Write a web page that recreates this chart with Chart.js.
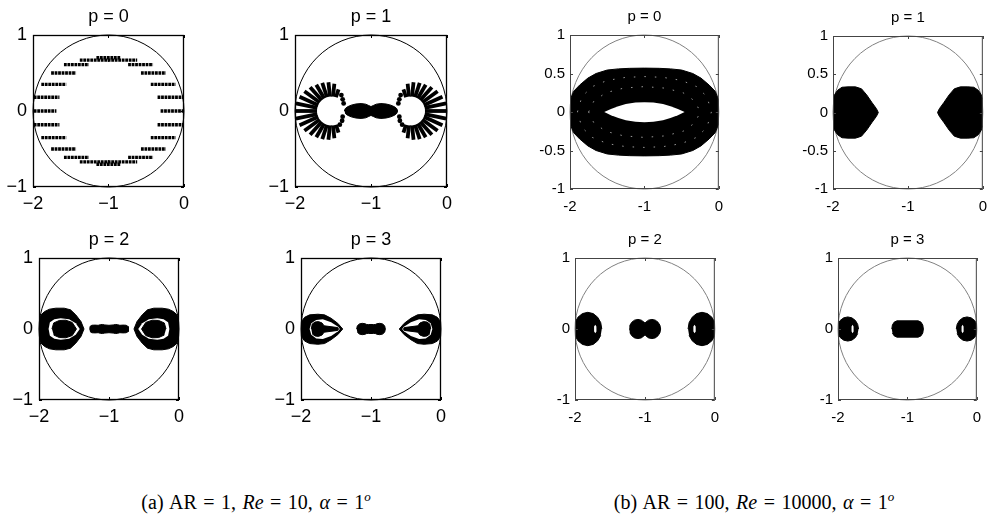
<!DOCTYPE html>
<html>
<head>
<meta charset="utf-8">
<script src="https://cdn.jsdelivr.net/npm/chart.js@4.4.1/dist/chart.umd.min.js"></script>
<style>
  html, body { margin: 0; padding: 0; background: #fff; }
  #fig { position: relative; width: 992px; height: 523px; overflow: hidden; }
  #fig canvas { position: absolute; }
  .cap { position: absolute; top: 486px; line-height: 22px; transform: translateX(-50%); white-space: nowrap;
         font-family: "Liberation Serif", "DejaVu Serif", serif; font-size: 20px; word-spacing: 1.5px; color: #000; }
  .cap sup { font-size: 13px; }
</style>
</head>
<body>
<div id="fig">
  <canvas id="a0"></canvas>
  <canvas id="a1"></canvas>
  <canvas id="a2"></canvas>
  <canvas id="a3"></canvas>
  <canvas id="b0"></canvas>
  <canvas id="b1"></canvas>
  <canvas id="b2"></canvas>
  <canvas id="b3"></canvas>
  <div class="cap" style="left:256px">(a) AR = 1, <i>Re</i> = 10, <i>α</i> = 1<sup><i>o</i></sup></div>
  <div class="cap" style="left:754px">(b) AR = 100, <i>Re</i> = 10000, <i>α</i> = 1<sup><i>o</i></sup></div>
</div>
<script>
// axes, ticks and the reference circle (centre -1, radius 1)
const xTicks = [-2, -1, 0];
const xLabelsA = ['\u22122', '\u22121', '0'];
const xLabelsB = ['-2', '-1', '0'];
const yTicksA = [-1, 0, 1];
const yLabelsA = ['\u22121', '0', '1'];
const yTicksB = [-1, -0.5, 0, 0.5, 1];
const yLabelsB = ['-1', '-0.5', '0', '0.5', '1'];
const yTicksB2 = [-1, 0, 1];
const yLabelsB2 = ['-1', '0', '1'];
const circleCenter = [-1, 0];
const circleRadius = 1;

// (a) p = 0 : rows of eigenvalues, [y, xStart, xEnd]
const a0Rows = [
  [0.70, -1.16, -0.84],
  [0.67, -1.38, -0.99], [0.67, -1.01, -0.62],
  [0.61, -1.59, -1.26], [0.61, -0.74, -0.41],
  [0.50, -1.76, -1.43], [0.50, -0.57, -0.24],
  [0.35, -1.89, -1.56], [0.35, -0.44, -0.11],
  [0.18, -1.99, -1.65], [0.18, -0.35, -0.01],
  [0.00, -1.99, -1.69], [0.00, -0.31, 0.02],
  [-0.18, -1.99, -1.65], [-0.18, -0.35, -0.01],
  [-0.35, -1.89, -1.56], [-0.35, -0.44, -0.11],
  [-0.50, -1.76, -1.43], [-0.50, -0.57, -0.24],
  [-0.61, -1.59, -1.26], [-0.61, -0.74, -0.41],
  [-0.67, -1.38, -0.99], [-0.67, -1.01, -0.62],
  [-0.70, -1.16, -0.84]
];

// (a) p = 1 : spokes around the two rings, [x1, y1, x2, y2]
const a1Spokes = [
  [-1.461, 0.181, -1.427, 0.285], [-1.500, 0.189, -1.482, 0.358], [-1.540, 0.189, -1.560, 0.378],
  [-1.579, 0.181, -1.641, 0.371], [-1.615, 0.165, -1.720, 0.346], [-1.647, 0.141, -1.801, 0.312],
  [-1.674, 0.112, -1.876, 0.259], [-1.694, 0.077, -1.940, 0.187], [-1.706, 0.040, -1.989, 0.100],
  [-1.710, 0.000, -2.000, 0.000],
  [-1.706, -0.040, -1.989, -0.100], [-1.694, -0.077, -1.940, -0.187], [-1.674, -0.112, -1.876, -0.259],
  [-1.647, -0.141, -1.801, -0.312], [-1.615, -0.165, -1.720, -0.346], [-1.579, -0.181, -1.641, -0.371],
  [-1.540, -0.189, -1.560, -0.378], [-1.500, -0.189, -1.482, -0.358], [-1.461, -0.181, -1.427, -0.285],
  [-0.539, 0.181, -0.573, 0.285], [-0.500, 0.189, -0.518, 0.358], [-0.460, 0.189, -0.440, 0.378],
  [-0.421, 0.181, -0.359, 0.371], [-0.385, 0.165, -0.280, 0.346], [-0.353, 0.141, -0.199, 0.312],
  [-0.326, 0.112, -0.124, 0.259], [-0.306, 0.077, -0.060, 0.187], [-0.294, 0.040, -0.011, 0.100],
  [-0.290, 0.000, 0.000, 0.000],
  [-0.294, -0.040, -0.011, -0.100], [-0.306, -0.077, -0.060, -0.187], [-0.326, -0.112, -0.124, -0.259],
  [-0.353, -0.141, -0.199, -0.312], [-0.385, -0.165, -0.280, -0.346], [-0.421, -0.181, -0.359, -0.371],
  [-0.460, -0.189, -0.440, -0.378], [-0.500, -0.189, -0.518, -0.358], [-0.539, -0.181, -0.573, -0.285]
];
const a1Dots = [
  [-1.39, 0.21], [-1.373, 0.154], [-1.36, 0.10], [-1.373, -0.075], [-1.38, -0.128], [-1.41, -0.18],
  [-0.61, 0.21], [-0.627, 0.154], [-0.64, 0.10], [-0.627, -0.075], [-0.62, -0.128], [-0.59, -0.18]
];
const a1Middle = [
  [-1.35, 0], [-1.34, 0.03], [-1.31, 0.055], [-1.26, 0.077], [-1.2, 0.092], [-1.13, 0.098], [-1.07, 0.09],
  [-1.03, 0.072], [-1.0, 0.058], [-0.97, 0.072], [-0.93, 0.09], [-0.87, 0.098], [-0.8, 0.092], [-0.74, 0.077],
  [-0.69, 0.055], [-0.66, 0.03], [-0.65, 0], [-0.66, -0.03], [-0.69, -0.055], [-0.74, -0.077], [-0.8, -0.092],
  [-0.87, -0.098], [-0.93, -0.09], [-0.97, -0.072], [-1.0, -0.058], [-1.03, -0.072], [-1.07, -0.09],
  [-1.13, -0.098], [-1.2, -0.092], [-1.26, -0.077], [-1.31, -0.055], [-1.34, -0.03]
];

// (a) p = 2
const a2OuterL = [
  [-2.0, 0], [-2.0, 0.128], [-1.97, 0.2], [-1.92, 0.246], [-1.85, 0.279], [-1.76, 0.293], [-1.64, 0.293],
  [-1.55, 0.27], [-1.475, 0.2], [-1.40, 0.104], [-1.357, 0], [-1.40, -0.104], [-1.475, -0.2], [-1.55, -0.27],
  [-1.64, -0.293], [-1.76, -0.293], [-1.85, -0.279], [-1.92, -0.246], [-1.97, -0.2], [-2.0, -0.128]
];
const a2GapL = [
  [-1.863, 0], [-1.844, 0.095], [-1.78, 0.137], [-1.69, 0.151], [-1.57, 0.137], [-1.475, 0.08], [-1.418, 0],
  [-1.475, -0.08], [-1.57, -0.137], [-1.69, -0.151], [-1.78, -0.137], [-1.844, -0.095]
];
const a2CoreL = [
  [-1.815, 0], [-1.79, 0.085], [-1.71, 0.12], [-1.617, 0.124], [-1.525, 0.092], [-1.465, 0],
  [-1.525, -0.092], [-1.617, -0.124], [-1.71, -0.12], [-1.79, -0.085]
];
const a2OuterR = [
  [0, 0], [0, 0.128], [-0.03, 0.2], [-0.08, 0.246], [-0.15, 0.279], [-0.24, 0.293], [-0.36, 0.293],
  [-0.45, 0.27], [-0.525, 0.2], [-0.60, 0.104], [-0.643, 0], [-0.60, -0.104], [-0.525, -0.2], [-0.45, -0.27],
  [-0.36, -0.293], [-0.24, -0.293], [-0.15, -0.279], [-0.08, -0.246], [-0.03, -0.2], [0, -0.128]
];
const a2GapR = [
  [-0.137, 0], [-0.156, 0.095], [-0.22, 0.137], [-0.31, 0.151], [-0.43, 0.137], [-0.525, 0.08], [-0.582, 0],
  [-0.525, -0.08], [-0.43, -0.137], [-0.31, -0.151], [-0.22, -0.137], [-0.156, -0.095]
];
const a2CoreR = [
  [-0.185, 0], [-0.21, 0.085], [-0.29, 0.12], [-0.383, 0.124], [-0.475, 0.092], [-0.535, 0],
  [-0.475, -0.092], [-0.383, -0.124], [-0.29, -0.12], [-0.21, -0.085]
];
const a2Middle = [
  [-1.28, 0], [-1.272, 0.035], [-1.245, 0.053], [-1.2, 0.055], [-1.155, 0.052], [-1.125, 0.06], [-1.095, 0.064],
  [-1.06, 0.057], [-1.0, 0.052], [-0.94, 0.057], [-0.905, 0.064], [-0.875, 0.06], [-0.845, 0.052], [-0.8, 0.055],
  [-0.755, 0.053], [-0.728, 0.035], [-0.72, 0], [-0.728, -0.035], [-0.755, -0.053], [-0.8, -0.055],
  [-0.845, -0.052], [-0.875, -0.06], [-0.905, -0.064], [-0.94, -0.057], [-1.0, -0.052], [-1.06, -0.057],
  [-1.095, -0.064], [-1.125, -0.06], [-1.155, -0.052], [-1.2, -0.055], [-1.245, -0.053], [-1.272, -0.035]
];

// (a) p = 3
const a3OuterL = [
  [-2.0, 0], [-1.995, 0.104], [-1.948, 0.165], [-1.877, 0.199], [-1.759, 0.208], [-1.664, 0.199], [-1.57, 0.151],
  [-1.475, 0.08], [-1.404, 0], [-1.475, -0.08], [-1.57, -0.151], [-1.664, -0.205], [-1.759, -0.215],
  [-1.877, -0.205], [-1.948, -0.17], [-1.995, -0.104]
];
const a3GapL = [
  [-1.877, 0], [-1.853, 0.08], [-1.783, 0.128], [-1.688, 0.137], [-1.57, 0.095], [-1.47, 0.03], [-1.445, 0],
  [-1.47, -0.03], [-1.57, -0.1], [-1.688, -0.142], [-1.783, -0.133], [-1.853, -0.08]
];
const a3CoreL = [
  [-1.853, 0], [-1.839, 0.071], [-1.797, 0.099], [-1.75, 0.104], [-1.70, 0.085], [-1.67, 0.045], [-1.475, 0.02],
  [-1.465, 0], [-1.475, -0.02], [-1.67, -0.045], [-1.70, -0.085], [-1.75, -0.104], [-1.797, -0.099], [-1.839, -0.071]
];
const a3OuterR = [
  [0, 0], [-0.005, 0.104], [-0.052, 0.165], [-0.123, 0.199], [-0.241, 0.208], [-0.336, 0.199], [-0.43, 0.151],
  [-0.525, 0.08], [-0.596, 0], [-0.525, -0.08], [-0.43, -0.151], [-0.336, -0.205], [-0.241, -0.215],
  [-0.123, -0.205], [-0.052, -0.17], [-0.005, -0.104]
];
const a3GapR = [
  [-0.123, 0], [-0.147, 0.08], [-0.217, 0.128], [-0.312, 0.137], [-0.43, 0.095], [-0.53, 0.03], [-0.555, 0],
  [-0.53, -0.03], [-0.43, -0.1], [-0.312, -0.142], [-0.217, -0.133], [-0.147, -0.08]
];
const a3CoreR = [
  [-0.147, 0], [-0.161, 0.071], [-0.203, 0.099], [-0.25, 0.104], [-0.30, 0.085], [-0.33, 0.045], [-0.525, 0.02],
  [-0.535, 0], [-0.525, -0.02], [-0.33, -0.045], [-0.30, -0.085], [-0.25, -0.104], [-0.203, -0.099], [-0.161, -0.071]
];
const a3Middle = [
  [-1.205, 0], [-1.195, 0.045], [-1.165, 0.072], [-1.125, 0.08], [-1.085, 0.074], [-1.06, 0.063], [-1.035, 0.062],
  [-1.0, 0.064], [-0.965, 0.062], [-0.94, 0.063], [-0.915, 0.074], [-0.875, 0.08], [-0.835, 0.072], [-0.805, 0.045],
  [-0.795, 0], [-0.805, -0.045], [-0.835, -0.072], [-0.875, -0.08], [-0.915, -0.074], [-0.94, -0.063],
  [-0.965, -0.062], [-1.0, -0.064], [-1.035, -0.062], [-1.06, -0.063], [-1.085, -0.074], [-1.125, -0.08],
  [-1.165, -0.072], [-1.195, -0.045]
];

// (b) p = 0 : annulus of eigenvalues
const b0Outer = [
  [-2.0, 0.15], [-1.95, 0.27], [-1.87, 0.35], [-1.76, 0.44], [-1.65, 0.50], [-1.5, 0.545], [-1.35, 0.56],
  [-1.2, 0.567], [-1.0, 0.57], [-0.8, 0.567], [-0.65, 0.56], [-0.5, 0.545], [-0.35, 0.50], [-0.24, 0.44],
  [-0.13, 0.35], [-0.05, 0.27], [0.0, 0.15], [0.0, -0.15], [-0.05, -0.27], [-0.13, -0.35], [-0.24, -0.44],
  [-0.35, -0.50], [-0.5, -0.545], [-0.65, -0.56], [-0.8, -0.567], [-1.0, -0.57], [-1.2, -0.567], [-1.35, -0.56],
  [-1.5, -0.545], [-1.65, -0.50], [-1.76, -0.44], [-1.87, -0.35], [-1.95, -0.27], [-2.0, -0.15]
];
const b0Hole = [
  [-1.54, 0], [-1.45, 0.04], [-1.35, 0.075], [-1.25, 0.103], [-1.12, 0.122], [-1.0, 0.128], [-0.88, 0.122],
  [-0.75, 0.103], [-0.65, 0.075], [-0.55, 0.04], [-0.46, 0], [-0.55, -0.042], [-0.65, -0.078], [-0.75, -0.107],
  [-0.88, -0.126], [-1.0, -0.132], [-1.12, -0.126], [-1.25, -0.107], [-1.35, -0.078], [-1.45, -0.042]
];
const b0Speckle1 = [
  [-1.9, 0], [-1.84, 0.2], [-1.7, 0.33], [-1.5, 0.41], [-1.25, 0.45], [-1.0, 0.46], [-0.75, 0.45], [-0.5, 0.41],
  [-0.3, 0.33], [-0.16, 0.2], [-0.1, 0], [-0.16, -0.2], [-0.3, -0.33], [-0.5, -0.41], [-0.75, -0.45],
  [-1.0, -0.46], [-1.25, -0.45], [-1.5, -0.41], [-1.7, -0.33], [-1.84, -0.2], [-1.9, 0]
];
const b0Speckle2 = [
  [-1.75, 0], [-1.68, 0.14], [-1.52, 0.25], [-1.28, 0.31], [-1.0, 0.33], [-0.72, 0.31], [-0.48, 0.25],
  [-0.32, 0.14], [-0.25, 0], [-0.32, -0.14], [-0.48, -0.25], [-0.72, -0.31], [-1.0, -0.33], [-1.28, -0.31],
  [-1.52, -0.25], [-1.68, -0.14], [-1.75, 0]
];

// (b) p = 1
const b1Left = [
  [-2.0, 0.17], [-1.98, 0.23], [-1.94, 0.29], [-1.88, 0.33], [-1.80, 0.335], [-1.70, 0.335], [-1.62, 0.31],
  [-1.55, 0.23], [-1.48, 0.13], [-1.42, 0.05], [-1.395, 0], [-1.42, -0.05], [-1.48, -0.13], [-1.55, -0.23],
  [-1.62, -0.31], [-1.70, -0.335], [-1.80, -0.335], [-1.88, -0.33], [-1.94, -0.29], [-1.98, -0.23], [-2.0, -0.17]
];
const b1Right = [
  [0, 0.17], [-0.02, 0.23], [-0.06, 0.29], [-0.12, 0.33], [-0.20, 0.335], [-0.30, 0.335], [-0.38, 0.31],
  [-0.45, 0.23], [-0.52, 0.13], [-0.58, 0.05], [-0.605, 0], [-0.58, -0.05], [-0.52, -0.13], [-0.45, -0.23],
  [-0.38, -0.31], [-0.30, -0.335], [-0.20, -0.335], [-0.12, -0.33], [-0.06, -0.29], [-0.02, -0.23], [0, -0.17]
];

// (b) p = 2
const b2Left = [
  [-1.617, 0], [-1.632, 0.09], [-1.676, 0.166], [-1.74, 0.217], [-1.817, 0.235], [-1.894, 0.217], [-1.958, 0.166],
  [-2.0, 0.09], [-2.0, -0.09], [-1.958, -0.166], [-1.894, -0.217], [-1.817, -0.235], [-1.74, -0.217],
  [-1.676, -0.166], [-1.632, -0.09]
];
const b2SlitL = [
  [-1.71, 0.06], [-1.694, 0.035], [-1.692, 0], [-1.694, -0.035], [-1.71, -0.06], [-1.726, -0.035], [-1.728, 0], [-1.726, 0.035]
];
const b2Right = [
  [-0.383, 0], [-0.368, 0.09], [-0.324, 0.166], [-0.26, 0.217], [-0.183, 0.235], [-0.106, 0.217], [-0.042, 0.166],
  [0, 0.09], [0, -0.09], [-0.042, -0.166], [-0.106, -0.217], [-0.183, -0.235], [-0.26, -0.217], [-0.324, -0.166],
  [-0.368, -0.09]
];
const b2SlitR = [
  [-0.29, 0.06], [-0.274, 0.035], [-0.272, 0], [-0.274, -0.035], [-0.29, -0.06], [-0.306, -0.035], [-0.308, 0], [-0.306, 0.035]
];
const b2Middle = [
  [-1.225, 0], [-1.215, 0.052], [-1.188, 0.095], [-1.148, 0.125], [-1.1, 0.135], [-1.052, 0.125], [-1.012, 0.095],
  [-1.0, 0.081], [-0.988, 0.095], [-0.948, 0.125], [-0.9, 0.135], [-0.852, 0.125], [-0.812, 0.095], [-0.785, 0.052],
  [-0.775, 0], [-0.785, -0.052], [-0.812, -0.095], [-0.852, -0.125], [-0.9, -0.135], [-0.948, -0.125],
  [-0.988, -0.095], [-1.0, -0.081], [-1.012, -0.095], [-1.052, -0.125], [-1.1, -0.135], [-1.148, -0.125],
  [-1.188, -0.095], [-1.215, -0.052]
];

// (b) p = 3
const b3Left = [
  [-1.704, 0], [-1.716, 0.065], [-1.749, 0.12], [-1.8, 0.157], [-1.859, 0.17], [-1.918, 0.157], [-1.969, 0.12],
  [-2.0, 0.065], [-2.0, -0.065], [-1.969, -0.12], [-1.918, -0.157], [-1.859, -0.17], [-1.8, -0.157],
  [-1.749, -0.12], [-1.716, -0.065]
];
const b3SlitL = [
  [-1.79, 0.06], [-1.776, 0.035], [-1.774, 0], [-1.776, -0.035], [-1.79, -0.06], [-1.804, -0.035], [-1.806, 0], [-1.804, 0.035]
];
const b3Right = [
  [-0.296, 0], [-0.284, 0.065], [-0.251, 0.12], [-0.2, 0.157], [-0.141, 0.17], [-0.082, 0.157], [-0.031, 0.12],
  [0, 0.065], [0, -0.065], [-0.031, -0.12], [-0.082, -0.157], [-0.141, -0.17], [-0.2, -0.157], [-0.251, -0.12],
  [-0.284, -0.065]
];
const b3SlitR = [
  [-0.205, 0.06], [-0.191, 0.035], [-0.189, 0], [-0.191, -0.035], [-0.205, -0.06], [-0.219, -0.035], [-0.221, 0], [-0.219, 0.035]
];
const b3Middle = [
  [-1.225, 0], [-1.216, 0.057], [-1.19, 0.097], [-1.15, 0.115], [-0.845, 0.115], [-0.805, 0.097], [-0.779, 0.057],
  [-0.77, 0], [-0.779, -0.057], [-0.805, -0.097], [-0.845, -0.115], [-1.15, -0.115], [-1.19, -0.097], [-1.216, -0.057]
];

// ---------- helpers ----------
const FONT = "'Liberation Sans', Arial, sans-serif";
const PAD_L = 40, PAD_R = 10, PAD_B = 30;

const styleA = { size: 18, head: 32, titlePad: { top: 3, bottom: 7.4 }, xPad: 6, yPad: 6, frame: '#000', ring: '#000' };
const styleB = { size: 15, head: 30, titlePad: { top: 3.3, bottom: 8.7 }, xPad: 9, yPad: 5, frame: '#444', ring: '#808080' };

function shape(pts, color, order) {
  return {
    data: pts.map(p => ({ x: p[0], y: p[1] })),
    showLine: true, fill: 'shape', backgroundColor: color, borderColor: color,
    borderWidth: color === '#fff' ? 0 : 1, pointRadius: 0, order: order
  };
}
function streak(x1, y1, x2, y2, width, dash) {
  return {
    data: [{ x: x1, y: y1 }, { x: x2, y: y2 }],
    showLine: true, fill: false, borderColor: '#000', borderWidth: width,
    borderDash: dash, borderCapStyle: 'butt', pointRadius: 0, order: 2
  };
}
function speckle(pts) {
  return {
    data: pts.map(p => ({ x: p[0], y: p[1] })),
    showLine: true, fill: false, borderColor: 'rgba(255,255,255,0.6)', borderWidth: 1,
    borderDash: [1.5, 9], pointRadius: 0, order: 2
  };
}

// circle + box + inward tick marks
const framePlugin = {
  id: 'frame',
  beforeDatasetsDraw(chart, args, opts) {
    const { ctx } = chart;
    const xs = chart.scales.x, ys = chart.scales.y;
    const cx = xs.getPixelForValue(circleCenter[0]);
    const cy = ys.getPixelForValue(circleCenter[1]);
    const rx = Math.abs(xs.getPixelForValue(circleCenter[0] + circleRadius) - cx);
    const ry = Math.abs(ys.getPixelForValue(circleCenter[1] + circleRadius) - cy);
    ctx.save();
    ctx.strokeStyle = opts.ring;
    ctx.lineWidth = 1;
    ctx.beginPath();
    ctx.ellipse(cx, cy, rx, ry, 0, 0, Math.PI * 2);
    ctx.stroke();
    ctx.restore();
  },
  afterDatasetsDraw(chart, args, opts) {
    const { ctx, chartArea: a } = chart;
    ctx.save();
    ctx.strokeStyle = opts.frame;
    ctx.lineWidth = opts.width;
    ctx.strokeRect(a.left + 0.5, a.top + 0.5, a.right - a.left - 1, a.bottom - a.top - 1);
    ctx.lineWidth = 1;
    ctx.beginPath();
    chart.scales.x.ticks.forEach(t => {
      const px = Math.round(chart.scales.x.getPixelForValue(t.value)) + 0.5;
      ctx.moveTo(px, a.top); ctx.lineTo(px, a.top + 3);
      ctx.moveTo(px, a.bottom); ctx.lineTo(px, a.bottom - 3);
    });
    chart.scales.y.ticks.forEach(t => {
      const py = Math.round(chart.scales.y.getPixelForValue(t.value)) + 0.5;
      ctx.moveTo(a.left, py); ctx.lineTo(a.left + 3, py);
      ctx.moveTo(a.right, py); ctx.lineTo(a.right - 3, py);
    });
    ctx.stroke();
    ctx.restore();
  }
};

function panel(id, box, style, title, xLabels, yTicks, yLabels, datasets) {
  const canvas = document.getElementById(id);
  canvas.width = box.w + PAD_L + PAD_R;
  canvas.height = box.h + style.head + PAD_B;
  canvas.style.left = (box.left - PAD_L) + 'px';
  canvas.style.top = (box.top - style.head) + 'px';
  const tickFont = { family: FONT, size: style.size };
  return new Chart(canvas, {
    type: 'scatter',
    data: { datasets },
    plugins: [framePlugin],
    options: {
      responsive: false, animation: false, devicePixelRatio: 1,
      layout: { padding: { left: 0, right: PAD_R, top: 0, bottom: 0 } },
      elements: { line: { tension: 0 } },
      plugins: {
        legend: { display: false },
        tooltip: { enabled: false },
        title: {
          display: true, text: title, fullSize: false, color: '#000',
          font: { family: FONT, size: style.size, weight: 'normal' }, padding: style.titlePad
        },
        frame: { ring: style.ring, frame: style.frame, width: style === styleA ? 1.3 : 1 }
      },
      scales: {
        x: {
          type: 'linear', min: -2, max: 0,
          grid: { display: false, drawTicks: false }, border: { display: false },
          afterBuildTicks: s => { s.ticks = xTicks.map(v => ({ value: v })); },
          afterFit: s => { s.height = PAD_B; },
          ticks: { padding: style.xPad, color: '#000', font: tickFont, maxRotation: 0, autoSkip: false,
                   callback: (v, i) => xLabels[i] }
        },
        y: {
          type: 'linear', min: -1, max: 1,
          grid: { display: false, drawTicks: false }, border: { display: false },
          afterBuildTicks: s => { s.ticks = yTicks.map(v => ({ value: v })); },
          afterFit: s => { s.width = PAD_L; },
          ticks: { padding: style.yPad, color: '#000', font: tickFont, autoSkip: false,
                   callback: (v, i) => yLabels[i] }
        }
      }
    }
  });
}

// ---------- (a) AR = 1 ----------
panel('a0', { left: 33, top: 35, w: 152, h: 152 }, styleA, 'p = 0', xLabelsA, yTicksA, yLabelsA,
  a0Rows.map(r => streak(r[1], r[0], r[2], r[0], 3.4, [2.8, 0.7])));

panel('a1', { left: 295, top: 35, w: 153, h: 152 }, styleA, 'p = 1', xLabelsA, yTicksA, yLabelsA, [
  ...a1Spokes.map(s => streak(s[0], s[1], s[2], s[3], 3.8, [])),
  { data: a1Dots.map(p => ({ x: p[0], y: p[1] })), pointRadius: 2.4, pointBackgroundColor: '#000',
    pointBorderWidth: 0, showLine: false, order: 2 },
  shape(a1Middle, '#000', 1)
]);

panel('a2', { left: 39, top: 258, w: 141, h: 142 }, styleA, 'p = 2', xLabelsA, yTicksA, yLabelsA, [
  shape(a2OuterL, '#000', 3), shape(a2GapL, '#fff', 2), shape(a2CoreL, '#000', 1),
  shape(a2OuterR, '#000', 3), shape(a2GapR, '#fff', 2), shape(a2CoreR, '#000', 1),
  shape(a2Middle, '#000', 1)
]);

panel('a3', { left: 301, top: 258, w: 141, h: 142 }, styleA, 'p = 3', xLabelsA, yTicksA, yLabelsA, [
  shape(a3OuterL, '#000', 3), shape(a3GapL, '#fff', 2), shape(a3CoreL, '#000', 1),
  shape(a3OuterR, '#000', 3), shape(a3GapR, '#fff', 2), shape(a3CoreR, '#000', 1),
  shape(a3Middle, '#000', 1)
]);

// ---------- (b) AR = 100 ----------
panel('b0', { left: 570, top: 35, w: 152, h: 154 }, styleB, 'p = 0', xLabelsB, yTicksB, yLabelsB, [
  shape(b0Outer, '#000', 3), speckle(b0Speckle1), speckle(b0Speckle2), shape(b0Hole, '#fff', 1)
]);

panel('b1', { left: 833, top: 36, w: 153, h: 153 }, styleB, 'p = 1', xLabelsB, yTicksB, yLabelsB, [
  shape(b1Left, '#000', 1), shape(b1Right, '#000', 1)
]);

panel('b2', { left: 575, top: 258, w: 143, h: 142 }, styleB, 'p = 2', xLabelsB, yTicksB2, yLabelsB2, [
  shape(b2Left, '#000', 2), shape(b2SlitL, '#fff', 1),
  shape(b2Right, '#000', 2), shape(b2SlitR, '#fff', 1),
  shape(b2Middle, '#000', 2)
]);

panel('b3', { left: 838, top: 258, w: 142, h: 142 }, styleB, 'p = 3', xLabelsB, yTicksB2, yLabelsB2, [
  shape(b3Left, '#000', 2), shape(b3SlitL, '#fff', 1),
  shape(b3Right, '#000', 2), shape(b3SlitR, '#fff', 1),
  shape(b3Middle, '#000', 2)
]);
</script>
</body>
</html>
